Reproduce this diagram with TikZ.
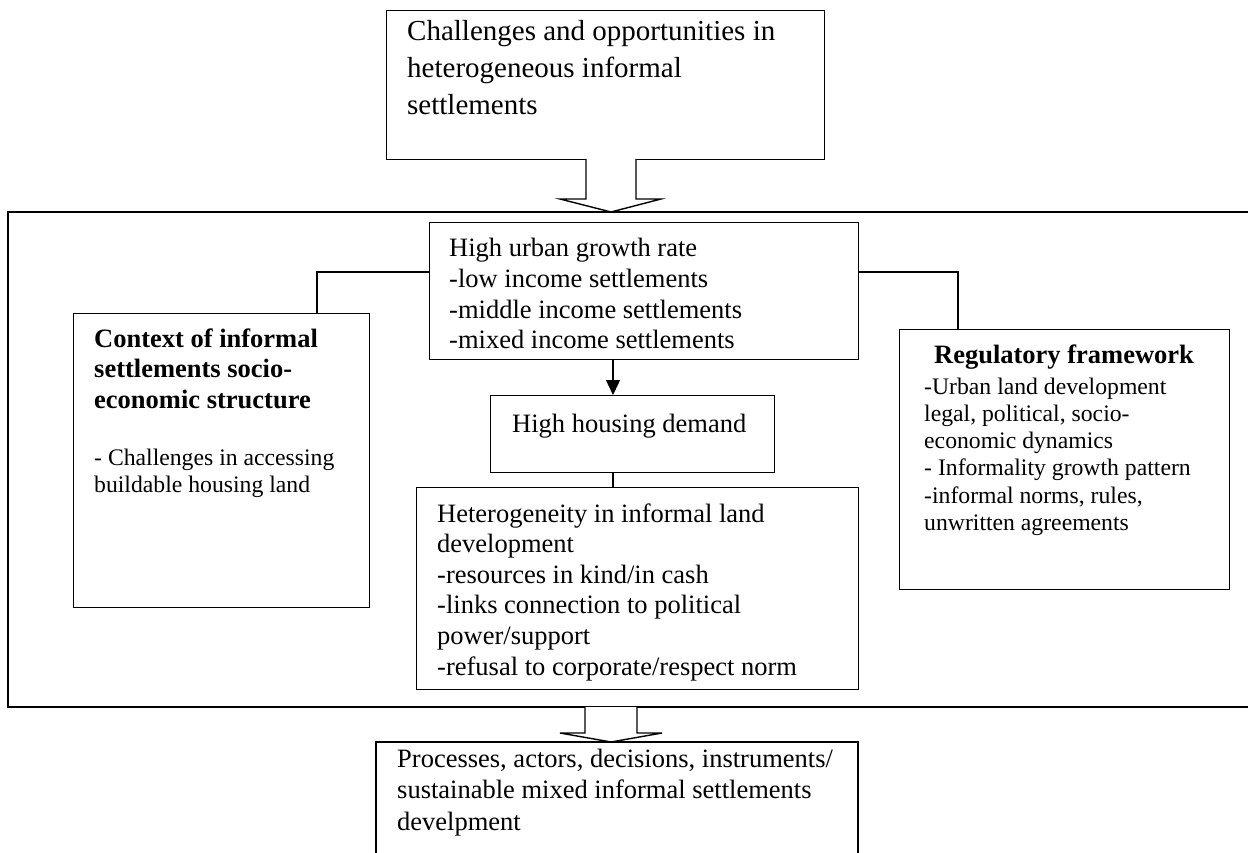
\documentclass[tikz,border=0pt]{standalone}
\usepackage{fontspec}
\setmainfont{Liberation Serif}
\usetikzlibrary{arrows.meta}

% type sizes used in the chart
\newcommand\bigtxt{\fontsize{29}{37}\selectfont}
\newcommand\midtxt{\fontsize{26.5}{30.6}\selectfont}
\newcommand\lowtxt{\fontsize{26.5}{31.5}\selectfont}
\newcommand\smalltxt{\fontsize{23.7}{27.3}\selectfont}
% a top-aligned block of lines, its baseline on the first line
\newcommand\txtblock[1]{\parbox[t]{620pt}{\raggedright #1}}

\begin{document}
\begin{tikzpicture}[x=1pt,y=-1pt,
  box/.style={draw,line width=1.4pt,inner sep=0pt,anchor=north west},
  txt/.style={inner sep=0pt,anchor=base west},
  wire/.style={line width=1.4pt},
  frame/.style={line width=1.6pt},
  hollow/.style={draw,line width=1.4pt,fill=white,line join=miter}]

\useasboundingbox (0,0) rectangle (1248,853);

% outer frame (open on the right, beyond the page edge)
\draw[frame] (1248,212) -- (8,212) -- (8,707) -- (1248,707);
\coordinate (frameN) at (611,212);
\coordinate (frameS) at (611,707);

% top box
\node[box,minimum width=438pt,minimum height=149pt] (top) at (386,10) {};
\node[txt] (toptext) at (407,41)
  {\bigtxt\txtblock{Challenges and opportunities in\\heterogeneous informal\\settlements}};

% hollow block arrow into the frame
\draw[hollow] (586,159) -- (586,199) -- (560,199) -- (frameN) -- (661,199) -- (636,199) -- (636,159);

% central column
\node[box,minimum width=429pt,minimum height=137pt] (growth) at (429,222) {};
\node[txt] (growthtext) at (449,257)
  {\midtxt\txtblock{High urban growth rate\\-low income settlements\\-middle income settlements\\-mixed income settlements}};

\node[box,minimum width=284pt,minimum height=77pt] (demand) at (490,395) {};
\node[txt] (demandtext) at (512,432) {\midtxt High housing demand};

\node[box,minimum width=442pt,minimum height=202pt] (hetero) at (416,487) {};
\node[txt] (heterotext) at (437,522)
  {\midtxt\txtblock{Heterogeneity in informal land\\development\\-resources in kind/in cash\\-links connection to political\\power/support\\-refusal to corporate/respect norm}};

% left box
\node[box,minimum width=296pt,minimum height=294pt] (context) at (73,313) {};
\node[txt] (contexthead) at (94,347)
  {\midtxt\bfseries\txtblock{Context of informal\\settlements socio-\\economic structure}};
\node[txt] (contextbody) at (94,465)
  {\smalltxt\txtblock{- Challenges in accessing\\buildable housing land}};

% right box
\node[box,minimum width=330pt,minimum height=260pt] (regul) at (899,329) {};
\node[inner sep=0pt,anchor=base] (regulhead) at (1064,363)
  {\midtxt\bfseries Regulatory framework};
\node[txt] (regulbody) at (924,394)
  {\smalltxt\txtblock{-Urban land development\\legal, political, socio-\\economic dynamics\\- Informality growth pattern\\-informal norms, rules,\\unwritten agreements}};

% connectors
\draw[wire] ([yshift=-50pt]growth.north west) -| ([xshift=244pt]context.north west);
\draw[wire] ([yshift=-50pt]growth.north east) -| ([xshift=59pt]regul.north west);
\draw[wire,-{Triangle[length=15pt,width=14pt]}]
  ([xshift=184pt]growth.south west) -- ([xshift=123pt]demand.north west);
\draw[wire] ([xshift=123pt]demand.south west) -- ([xshift=197pt]hetero.north west);

% hollow block arrow out of the frame
\draw[hollow] (585,707) -- (585,733) -- (560,733) -- (611,742) -- (662,733) -- (637,733) -- (637,707);

% bottom box (runs past the lower page edge)
\draw[wire] (376,853) -- (376,742) -- (858,742) -- (858,853);
\node[txt] (outcome) at (397,767)
  {\lowtxt\txtblock{Processes, actors, decisions, instruments/\\sustainable mixed informal settlements\\develpment}};

\end{tikzpicture}
\end{document}
